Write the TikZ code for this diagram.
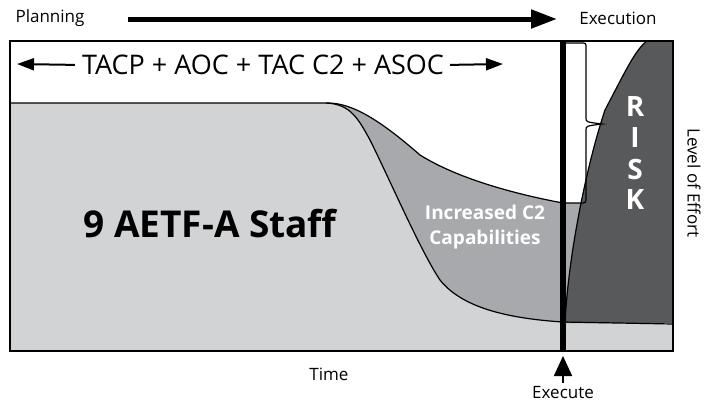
\documentclass[tikz,border=0pt]{standalone}
\usepackage{fontspec}
\setmainfont{Open Sans}
\usetikzlibrary{positioning,arrows.meta}
\definecolor{loelight}{RGB}{209,211,212}
\definecolor{loemid}{RGB}{167,169,172}
\definecolor{loedark}{RGB}{88,89,91}

\begin{document}
\begin{tikzpicture}[x=1pt,y=-1pt,
  label/.style={inner sep=0pt, font=\fontsize{17}{17}\selectfont},
  risk/.style={inner sep=0pt, text=white, font=\bfseries\fontsize{28}{28}\selectfont},
  outline/.style={draw=black, line width=1.2pt}]
\useasboundingbox (0,0) rectangle (707,405);

% Increased C2 area
\fill[loemid] (10,103) -- (328,103) .. controls (352,103) and (380,120) .. (420,155)
  .. controls (460,180) and (520,195) .. (563,203) -- (600,203) -- (600,351) -- (10,351) -- cycle;

% Staff area
\fill[loelight] (10,103) -- (326,103) .. controls (350,104) and (358,118) .. (370,140)
  .. controls (390,180) and (420,250) .. (440,280) .. controls (460,305) and (500,318) .. (563,322)
  -- (673,324) -- (673,351) -- (10,351) -- cycle;

% Risk area
\fill[loedark] (565,323) .. controls (568,260) and (585,170) .. (605,110)
  .. controls (625,72) and (635,50) .. (647,41) -- (673,41) -- (673,323) -- cycle;

% Curves
\draw[outline] (10,103) -- (328,103) .. controls (352,103) and (380,120) .. (420,155)
  .. controls (460,180) and (520,195) .. (563,203);
\draw[outline] (326,103) .. controls (350,104) and (358,118) .. (370,140)
  .. controls (390,180) and (420,250) .. (440,280) .. controls (460,305) and (500,318) .. (563,322)
  -- (673,324);
\draw[outline] (565,323) .. controls (568,260) and (585,170) .. (605,110)
  .. controls (625,72) and (635,50) .. (647,41);

% Brace
\draw[outline] (566,43) -- (581,43) .. controls (586,43) .. (586,48) -- (586,118)
  .. controls (586,122) .. (602,124) .. controls (586,126) .. (586,130) -- (586,197)
  .. controls (586,203) .. (580,203) -- (566,203);

% Frame
\draw[line width=1.2pt] (10,41) rectangle (673,351);

% Execute line
\coordinate (linetop) at (563,41);
\coordinate (linebot) at (563,351);
\draw[line width=6pt] (linetop) -- (linebot);

% Planning to execution
\node[label] (plan) at (50,18) {Planning};
\node[label] (exec) at (618,18) {Execution};
\coordinate (flowstart) at (128,19);
\coordinate (flowend) at (557,19);
\draw[-{Triangle[length=26pt,width=18pt]}, line width=5pt] (flowstart) -- (flowend);

% Organisations
\node[inner sep=0pt, font=\fontsize{27}{27}\selectfont] (tacp) at (263,65) {TACP + AOC + TAC C2 + ASOC};
\coordinate (tacpleft) at (17,64);
\coordinate (tacpright) at (503,64);
\draw[-{Triangle[length=17pt,width=12pt]}, line width=2pt, shorten <=7pt] (tacp.west) -- (tacpleft);
\draw[-{Triangle[length=17pt,width=12pt]}, line width=2pt, shorten <=6pt] (tacp.east) -- (tacpright);

% Areas
\node[inner sep=0pt, font=\bfseries\fontsize{37}{37}\selectfont] (staff) at (210,224) {9 AETF-A Staff};
\node[inner sep=0pt, text=white, align=center, font=\bfseries\fontsize{19}{25}\selectfont] (ctwo) at (485,227) {Increased C2\\Capabilities};
\foreach \ch [count=\i] in {R,I,S,K}
  \node[risk] (risk\i) at (635,76+31*\i) {\ch};

% Axes
\node[label, rotate=-90] (effort) at (694,183) {Level of Effort};
\node[label] (time) at (329,374) {Time};
\node[label] (exe) at (563,393) {Execute};
\coordinate (exebase) at (563,356);
\draw[-{Triangle[length=20pt,width=18pt]}, line width=1.8pt, shorten <=4pt] (exe.north) -- (exebase);
\end{tikzpicture}
\end{document}
